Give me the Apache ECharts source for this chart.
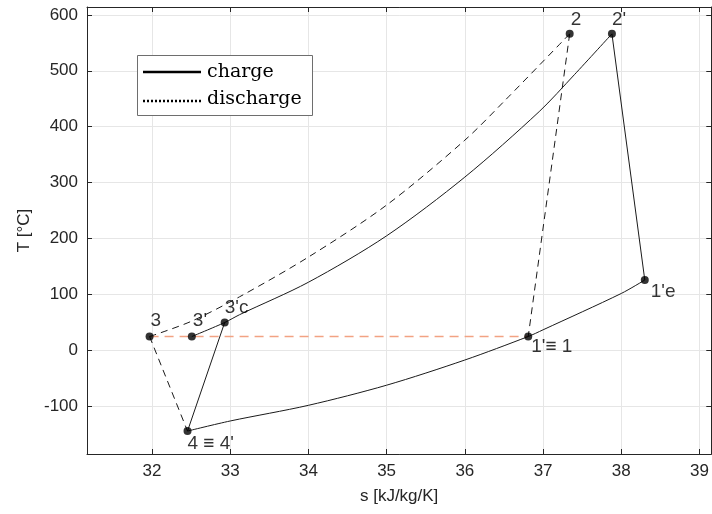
<!DOCTYPE html>
<html>
<head>
<meta charset="utf-8">
<script src="https://cdn.jsdelivr.net/npm/echarts@6/dist/echarts.min.js"></script>
<style>
  html, body { margin: 0; padding: 0; background: #fff; }
  #chart { width: 712px; height: 514px; }
</style>
</head>
<body>
<div id="chart"></div>
<script>
// state points (s [kJ/kg/K], T [°C])
var pointNames = ["3", "3'", "3'c", "2", "2'", "1'e", "1'\u2261 1", "4 \u2261 4'"];
var pointS = [31.97, 32.51, 32.93, 37.34, 37.88, 38.30, 36.81, 32.455];
var pointT = [25, 25, 50, 566, 566, 126, 25, -144];

// charge: high pressure isobar 3' -> 3'c -> 2'
var chargeHighS = [32.51, 32.93, 33.12, 34.0, 35.0, 36.0, 36.95, 37.4, 37.88];
var chargeHighT = [25, 50, 64, 122, 205, 310, 427, 493, 566];
// charge: low pressure isobar 4 -> 1' -> 1'e
var chargeLowS = [32.455, 33.0, 34.0, 35.0, 36.0, 36.81, 37.0, 38.0, 38.30];
var chargeLowT = [-144, -126, -98, -62, -17, 25, 37, 102, 126];
// discharge: isobar 3 -> 2
var dischS = [31.97, 32.5, 33.12, 34.0, 35.0, 36.0, 36.52, 37.34];
var dischT = [25, 52, 96, 167, 260, 376, 448, 566];

// straight segments (indexes into the point arrays)
var chargeSegs = [[4, 5], [7, 2]];     // 2'->1'e , 4->3'c
var dischSegs = [[3, 6], [0, 7]];      // 2->1 , 3->4
var ambientSeg = [0, 6];               // 3 -> 1 at ambient T

var labelOffsets = [[1, -16], [1, -16], [0, -15], [1, -14], [0, -14], [6, 12], [3, 10], [0, 13]];

function zip(a, b) {
    var r = [];
    for (var i = 0; i < a.length; i++) r.push([a[i], b[i]]);
    return r;
}
function seg(p) {
    return [[pointS[p[0]], pointT[p[0]]], [pointS[p[1]], pointT[p[1]]]];
}

var axisColor = '#262626';
var gridColor = '#e6e6e6';
var sansFont = 'Liberation Sans, DejaVu Sans, sans-serif';
var solidStyle = {color: '#1a1a1a', width: 1};
var dashStyle = {color: '#1a1a1a', width: 1, type: [7, 5]};

var series = [];
series.push({type: 'line', data: zip(chargeHighS, chargeHighT), smooth: 0.3, symbol: 'none', lineStyle: solidStyle, silent: true});
series.push({type: 'line', data: zip(chargeLowS, chargeLowT), smooth: 0.3, symbol: 'none', lineStyle: solidStyle, silent: true});
series.push({type: 'line', data: zip(dischS, dischT), smooth: 0.3, symbol: 'none', lineStyle: dashStyle, silent: true});
chargeSegs.forEach(function (p) {
    series.push({type: 'line', data: seg(p), symbol: 'none', lineStyle: solidStyle, silent: true});
});
dischSegs.forEach(function (p) {
    series.push({type: 'line', data: seg(p), symbol: 'none', lineStyle: dashStyle, silent: true});
});
series.push({type: 'line', data: seg(ambientSeg), symbol: 'none', z: 1,
    lineStyle: {color: '#f2a283', width: 1.5, type: [9, 6]}, silent: true});

var pts = [];
for (var i = 0; i < pointNames.length; i++) {
    pts.push({
        value: [pointS[i], pointT[i]],
        name: pointNames[i],
        label: {offset: labelOffsets[i]}
    });
}
series.push({
    type: 'scatter', data: pts, symbolSize: 8, z: 5,
    itemStyle: {color: '#000'},
    label: {
        show: true, position: 'inside', align: 'left', verticalAlign: 'middle',
        formatter: '{b}', color: '#000', fontSize: 19, fontFamily: sansFont
    }
});

var tickFont = {color: axisColor, fontSize: 17, fontFamily: sansFont};

var chart = echarts.init(document.getElementById('chart'));
chart.setOption({
    animation: false,
    grid: {left: 87, top: 7, right: 0, bottom: 60},
    xAxis: [{
        type: 'value', min: 31.17, max: 39.15, splitNumber: 8, minInterval: 1, maxInterval: 1,
        name: 's [kJ/kg/K]', nameLocation: 'middle', nameGap: 34,
        nameTextStyle: tickFont,
        axisLine: {onZero: false, lineStyle: {color: axisColor}},
        axisTick: {inside: true, length: 5, lineStyle: {color: axisColor}},
        axisLabel: {color: axisColor, fontSize: 17, fontFamily: sansFont, margin: 9, showMinLabel: false, showMaxLabel: false},
        splitLine: {lineStyle: {color: gridColor}}
    }, {
        type: 'value', position: 'top', min: 31.17, max: 39.15, splitNumber: 8, minInterval: 1, maxInterval: 1,
        axisLine: {show: true, onZero: false, lineStyle: {color: axisColor}},
        axisTick: {show: true, inside: true, length: 5, lineStyle: {color: axisColor}},
        axisLabel: {show: false},
        splitLine: {show: false}
    }],
    yAxis: [{
        type: 'value', min: -185, max: 614, splitNumber: 8, minInterval: 100, maxInterval: 100,
        name: 'T [\u00b0C]', nameLocation: 'middle', nameGap: 51,
        nameTextStyle: tickFont,
        axisLine: {show: true, onZero: false, lineStyle: {color: axisColor}},
        axisTick: {show: true, inside: true, length: 5, lineStyle: {color: axisColor}},
        axisLabel: {color: axisColor, fontSize: 17, fontFamily: sansFont, margin: 9, showMinLabel: false, showMaxLabel: false},
        splitLine: {lineStyle: {color: gridColor}}
    }, {
        type: 'value', position: 'right', min: -185, max: 614, splitNumber: 8, minInterval: 100, maxInterval: 100,
        axisLine: {show: true, onZero: false, lineStyle: {color: axisColor}},
        axisTick: {show: true, inside: true, length: 5, lineStyle: {color: axisColor}},
        axisLabel: {show: false},
        splitLine: {show: false}
    }],
    graphic: [
        {type: 'rect', shape: {x: 137.5, y: 55.5, width: 175, height: 60},
            style: {fill: '#fff', stroke: '#6e6e6e', lineWidth: 1}, z: 100},
        {type: 'line', shape: {x1: 143, y1: 72, x2: 201, y2: 72},
            style: {stroke: '#000', lineWidth: 2.5}, z: 101},
        {type: 'line', shape: {x1: 143, y1: 101, x2: 201, y2: 101},
            style: {stroke: '#000', lineWidth: 2.5, lineDash: [2, 2]}, z: 101},
        {type: 'text', x: 207, y: 72, z: 101,
            style: {text: 'charge', fill: '#000', font: '19px "DejaVu Serif", serif', verticalAlign: 'middle'}},
        {type: 'text', x: 207, y: 99, z: 101,
            style: {text: 'discharge', fill: '#000', font: '19px "DejaVu Serif", serif', verticalAlign: 'middle'}}
    ],
    series: series
});
</script>
</body>
</html>
